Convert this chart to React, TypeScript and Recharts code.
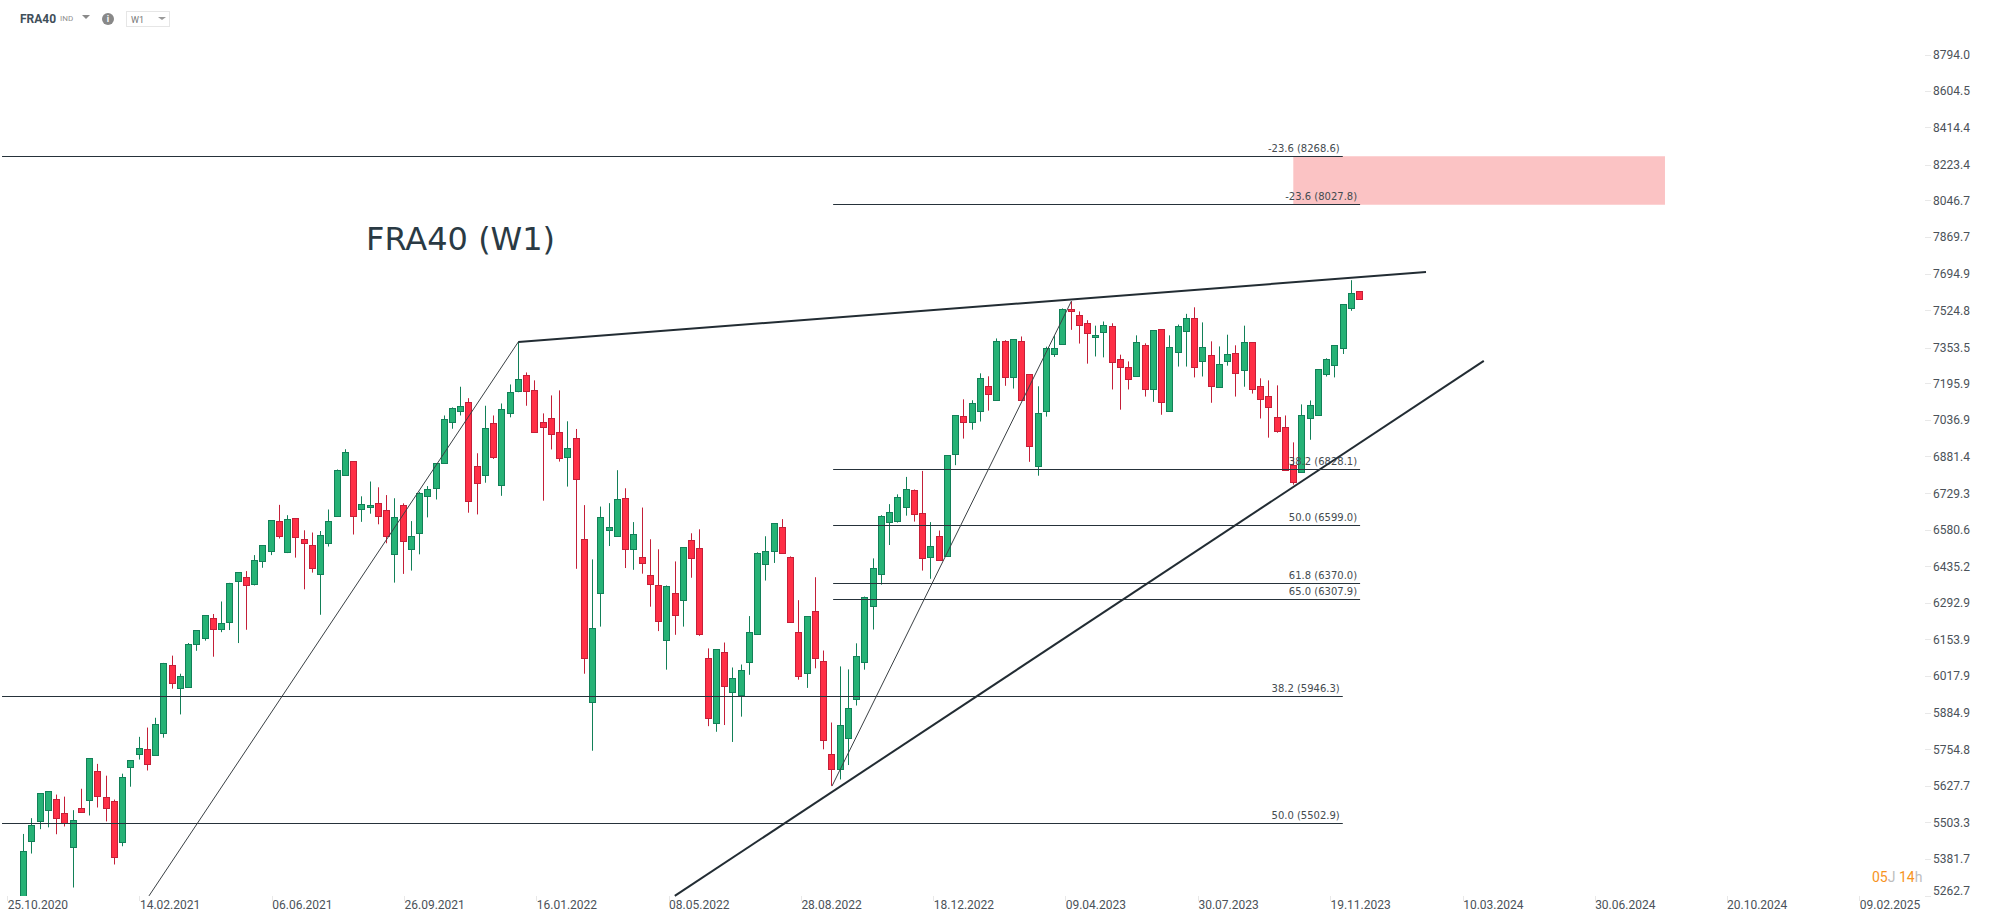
import React from "react";
import { ComposedChart, Bar, XAxis, YAxis, ReferenceLine, ReferenceArea } from "recharts";

// each row: open, high, low, close
const rallyOne: number[][] = [
  [5263,5466,5263,5409],[5442,5519,5401,5496],[5508,5604,5482,5604],[5546,5611,5488,5611],[5584,5599,5465,5519],
  [5536,5592,5491,5503],[5422,5546,5290,5512],[5552,5619,5537,5541],[5580,5725,5528,5725],[5681,5705,5555,5593],
  [5590,5664,5508,5552],[5577,5582,5365,5388],[5438,5671,5425,5660],[5693,5718,5626,5718],[5739,5800,5720,5761],
  [5757,5833,5682,5704],[5735,5868,5735,5845],[5813,6068,5797,6068],[6060,6095,5973,5993],[5974,6028,5880,6019],
  [5981,6142,5981,6139],[6137,6191,6113,6191],[6160,6248,6151,6248],[6235,6252,6091,6194],[6194,6300,6183,6217],
  [6220,6372,6191,6372],[6378,6414,6142,6414],[6395,6418,6192,6362],[6367,6481,6362,6462],[6457,6520,6431,6520],
];
const rallyTwo: number[][] = [
  [6497,6620,6481,6620],[6617,6683,6547,6556],[6492,6641,6489,6625],[6628,6628,6471,6552],[6545,6580,6347,6528],
  [6520,6571,6412,6432],[6406,6577,6249,6561],[6528,6664,6515,6617],[6636,6829,6636,6826],[6804,6914,6804,6902],
  [6863,6863,6563,6636],[6665,6718,6614,6686],[6673,6779,6647,6681],[6689,6755,6604,6636],[6662,6723,6528,6556],
  [6484,6710,6373,6633],[6681,6689,6407,6539],[6504,6617,6420,6556],[6568,6736,6484,6733],[6721,6760,6632,6748],
  [6751,6855,6705,6855],[6855,7058,6855,7041],[7028,7093,7001,7090],[7079,7183,7058,7098],[7115,7133,6651,6697],
  [6844,6897,6644,6771],[6804,7100,6774,7003],[7024,7058,6873,6883],[6763,7110,6720,7084],[7070,7193,7050,7158],
  [7163,7384,7159,7216],
];
const declineOne: number[][] = [
  [7233,7246,7100,7166],[7167,7211,6989,6989],[7029,7067,6700,7010],[7046,7145,6913,6977],[6985,7167,6862,6879],
  [6883,7033,6758,6918],[6960,7000,6427,6791],[6544,6682,6028,6087],[5926,6464,5751,6200],[6334,6676,6204,6632],
  [6582,6690,6517,6592],[6558,6826,6554,6705],[6713,6751,6430,6504],[6504,6613,6423,6564],[6472,6672,6408,6451],
  [6401,6544,6280,6366],[6362,6504,6187,6227],[6152,6362,6043,6359],[6332,6456,6173,6250],[6305,6512,6204,6512],
  [6540,6568,6392,6471],[6508,6584,6169,6177],[6085,6122,5838,5868],[5850,6118,5818,6118],[6107,6144,5842,5984],
  [5962,6051,5782,6014],[5951,6062,5872,6040],[6072,6244,6024,6182],[6175,6492,6175,6488],[6447,6556,6381,6496],
  [6496,6608,6450,6608],[6592,6625,6486,6491],[6472,6476,6223,6223],[6182,6305,6006,6021],[6029,6243,5976,6243],
  [6262,6394,6048,6087],[6074,6114,5756,5789],[5738,5851,5629,5688],
];
const recovery: number[][] = [
  [5688,6055,5651,5841],[5797,6044,5701,5902],[5937,6141,5912,6092],[6072,6319,6043,6319],[6284,6468,6193,6429],
  [6408,6641,6365,6636],[6615,6686,6521,6652],[6619,6726,6611,6717],[6675,6798,6639,6746],[6742,6746,6615,6647],
  [6648,6823,6420,6471],[6475,6613,6388,6516],[6556,6579,6460,6460],[6479,6889,6479,6889],[6893,7059,6847,7059],
  [7054,7128,6959,7031],[7029,7124,6997,7111],[7076,7242,7032,7220],[7185,7229,7079,7150],[7126,7398,7126,7385],
];
const topping: number[][] = [
  [7385,7390,7187,7225],[7228,7394,7175,7394],[7385,7407,7126,7126],[7238,7238,6861,6929],[6845,7185,6803,7067],
  [7079,7361,7053,7357],[7329,7409,7315,7357],[7375,7535,7375,7530],[7530,7568,7437,7521],[7503,7521,7375,7460],
  [7467,7481,7285,7424],[7406,7456,7317,7415],[7426,7475,7313,7461],[7453,7467,7171,7294],[7307,7325,7083,7272],
  [7269,7295,7171,7219],[7232,7412,7232,7380],[7367,7376,7140,7171],[7175,7435,7117,7435],[7439,7439,7061,7117],
  [7079,7412,7079,7358],[7337,7461,7272,7456],[7433,7510,7272,7493],[7489,7540,7224,7272],[7298,7471,7228,7358],
  [7322,7385,7113,7188],[7183,7362,7179,7282],[7298,7415,7276,7326],[7331,7367,7140,7245],[7258,7456,7183,7380],
  [7380,7380,7153,7171],[7185,7220,7045,7131],[7141,7211,6963,7096],[7050,7189,6984,6993],[7007,7058,6826,6826],
  [6849,6943,6766,6779],[6817,7106,6817,7058],[7048,7123,6954,7102],[7061,7260,7057,7260],[7240,7309,7228,7304],
  [7281,7367,7224,7367],[7354,7554,7328,7554],[7538,7666,7524,7605],[7614,7614,7580,7580],
];

const priceTicks = [8794.0,8604.5,8414.4,8223.4,8046.7,7869.7,7694.9,7524.8,7353.5,7195.9,7036.9,6881.4,6729.3,6580.6,6435.2,6292.9,6153.9,6017.9,5884.9,5754.8,5627.7,5503.3,5381.7,5262.7];
const dateLabels = ["25.10.2020","14.02.2021","06.06.2021","26.09.2021","16.01.2022","08.05.2022","28.08.2022","18.12.2022","09.04.2023","30.07.2023","19.11.2023","10.03.2024","30.06.2024","20.10.2024","09.02.2025"];
const dateTickPositions = [-1.9,14.14,30.19,46.23,62.27,78.31,94.35,110.4,126.4,142.5,158.5,174.6,190.6,206.6,222.7];

// start index, end index, price, label
const fibLevels: [number, number, number, string][] = [
  [-2.58,160,8268.6,"-23.6 (8268.6)"],
  [98.2,162.1,8027.8,"-23.6 (8027.8)"],
  [98.2,162.1,6828.1,"38.2 (6828.1)"],
  [98.2,162.1,6599.0,"50.0 (6599.0)"],
  [98.2,162.1,6370.0,"61.8 (6370.0)"],
  [98.2,162.1,6307.9,"65.0 (6307.9)"],
  [-2.58,160,5946.3,"38.2 (5946.3)"],
  [-2.58,160,5502.9,"50.0 (5502.9)"],
];
// x1, price1, x2, price2
const thinTrends = [[15.24,5263,60.02,7382],[98.06,5628,127.1,7569]];
const thickTrends = [[60.02,7382,170.09,7704],[79,5263,177.1,7297]];
const zone = { x1: 154, x2: 199.07, y1: 8027.8, y2: 8268.6 };

const rows = [...rallyOne, ...rallyTwo, ...declineOne, ...recovery, ...topping];
const data = rows.map((r, i) => ({ i, open: r[0], high: r[1], low: r[2], close: r[3] }));

const axisFont = "Roboto, sans-serif";
const axisColor = "#4b5259";

function Candle(props: any) {
  const { x, y, width, height, payload } = props;
  const { open, high, low, close } = payload;
  const up = close >= open;
  const span = Math.log(high / low) || 1;
  const yOf = (p: number) => y + (height * Math.log(high / p)) / span;
  const cx = Math.floor(x + width / 2) + 0.5;
  const top = Math.round(yOf(Math.max(open, close))) + 0.5;
  const bottom = Math.round(yOf(Math.min(open, close))) + 0.5;
  const fill = up ? "#26b276" : "#ff2f46";
  const edge = up ? "#128058" : "#c41f38";
  return (
    <g>
      <line x1={cx} x2={cx} y1={y} y2={y + height} stroke={edge} strokeWidth={1} />
      <rect x={cx - 3} y={top} width={6} height={Math.max(bottom - top, 1)} fill={fill} stroke={edge} strokeWidth={1} />
    </g>
  );
}

function PriceTick(props: any) {
  const { x, y, payload } = props;
  const last = payload.value === priceTicks[priceTicks.length - 1];
  const lineY = Math.floor(y) + 0.5;
  return (
    <g>
      <line x1={x} x2={x + 6} y1={lineY} y2={lineY} stroke="#e8e8e8" />
      <text x={x + 45} y={y + (last ? -1 : 4)} textAnchor="end" fontFamily={axisFont} fontSize={12} fill={axisColor}>
        {payload.value.toFixed(1)}
      </text>
    </g>
  );
}

function DateTick(props: any) {
  const { x, y, payload } = props;
  const idx = dateTickPositions.indexOf(payload.value);
  const lineX = Math.floor(x) + 0.5;
  return (
    <g>
      <line x1={lineX} x2={lineX} y1={y} y2={y + 5} stroke="#e8e8e8" />
      <text x={x} y={y + 13} textAnchor="start" fontFamily={axisFont} fontSize={12} fill={axisColor}>
        {dateLabels[idx]}
      </text>
    </g>
  );
}

function FibShape(label: string) {
  return (props: any) => {
    const { x1, y1, x2 } = props;
    const snapped = Math.floor(y1 + 0.3) + 0.5;
    return (
      <g>
        <line x1={x1} y1={snapped} x2={x2} y2={snapped} stroke="#26323a" strokeWidth={1} />
        <text x={x2 - 3} y={snapped - 5} textAnchor="end" fontFamily="DejaVu Sans" fontSize={10} fill="#444b50">
          {label}
        </text>
      </g>
    );
  };
}

const abs = (left: number, top: number): React.CSSProperties => ({ position: "absolute", left, top, lineHeight: 1, whiteSpace: "nowrap" });
const caret = (left: number, top: number, w: number, h: number, color: string) => (
  <div style={{ ...abs(left, top), width: 0, height: 0, borderLeft: `${w}px solid transparent`, borderRight: `${w}px solid transparent`, borderTop: `${h}px solid ${color}` }} />
);

export default function App() {
  return (
    <div style={{ position: "absolute", left: 0, top: 0, width: 1994, height: 922, background: "#fff", overflow: "hidden" }}>
      <ComposedChart width={1994} height={922} data={data} margin={{ top: 0, right: 0, bottom: 0, left: 0 }}>
        <XAxis
          dataKey="i"
          type="number"
          domain={[-2.825, 230.6]}
          allowDataOverflow
          ticks={dateTickPositions}
          interval={0}
          height={26}
          axisLine={false}
          tickLine={false}
          tickSize={0}
          tickMargin={0}
          tick={<DateTick />}
        />
        <YAxis
          orientation="right"
          scale="log"
          domain={[5262.7, 9097]}
          allowDataOverflow
          ticks={priceTicks}
          interval={0}
          width={69}
          axisLine={false}
          tickLine={false}
          tickSize={0}
          tickMargin={0}
          tick={<PriceTick />}
        />
        <ReferenceArea {...zone} fill="#fbc3c4" fillOpacity={1} stroke="none" ifOverflow="visible" />
        <Bar dataKey={(d: any) => [d.low, d.high]} barSize={7} isAnimationActive={false} shape={<Candle />} />
        {fibLevels.map(([a, b, p, label]) => (
          <ReferenceLine key={label + a} segment={[{ x: a, y: p }, { x: b, y: p }]} ifOverflow="visible" shape={FibShape(label)} />
        ))}
        {thinTrends.map((t, k) => (
          <ReferenceLine key={"thin" + k} segment={[{ x: t[0], y: t[1] }, { x: t[2], y: t[3] }]} stroke="#3a4044" strokeWidth={1} ifOverflow="visible" />
        ))}
        {thickTrends.map((t, k) => (
          <ReferenceLine key={"thick" + k} segment={[{ x: t[0], y: t[1] }, { x: t[2], y: t[3] }]} stroke="#222c33" strokeWidth={2} ifOverflow="visible" />
        ))}
      </ComposedChart>

      <div style={{ ...abs(366, 223), fontFamily: "DejaVu Sans", fontSize: 32, color: "#2a3a44" }}>FRA40 (W1)</div>

      <div style={{ ...abs(20, 13), fontFamily: axisFont, fontWeight: 700, fontSize: 12, color: "#3f4f5a" }}>FRA40</div>
      <div style={{ ...abs(60, 15), fontFamily: axisFont, fontSize: 8, color: "#8f8f8f" }}>IND</div>
      {caret(82, 15, 4, 4, "#8a8a8a")}
      <div style={{ ...abs(102, 13), width: 12, height: 12, borderRadius: 6, background: "#888", color: "#fff", fontFamily: axisFont, fontWeight: 700, fontSize: 9, textAlign: "center", lineHeight: "12px" }}>i</div>
      <div style={{ ...abs(126, 11), width: 42, height: 14, border: "1px solid #e6e6e6" }} />
      <div style={{ ...abs(131, 16), fontFamily: axisFont, fontSize: 9, color: "#777" }}>W1</div>
      {caret(158, 17, 4, 3, "#999")}

      <div style={{ ...abs(1872, 870), fontFamily: axisFont, fontSize: 14, color: "#bdbdbd" }}>
        <span style={{ color: "#f7941d" }}>05</span>J <span style={{ color: "#f7941d" }}>14</span>h
      </div>
    </div>
  );
}
